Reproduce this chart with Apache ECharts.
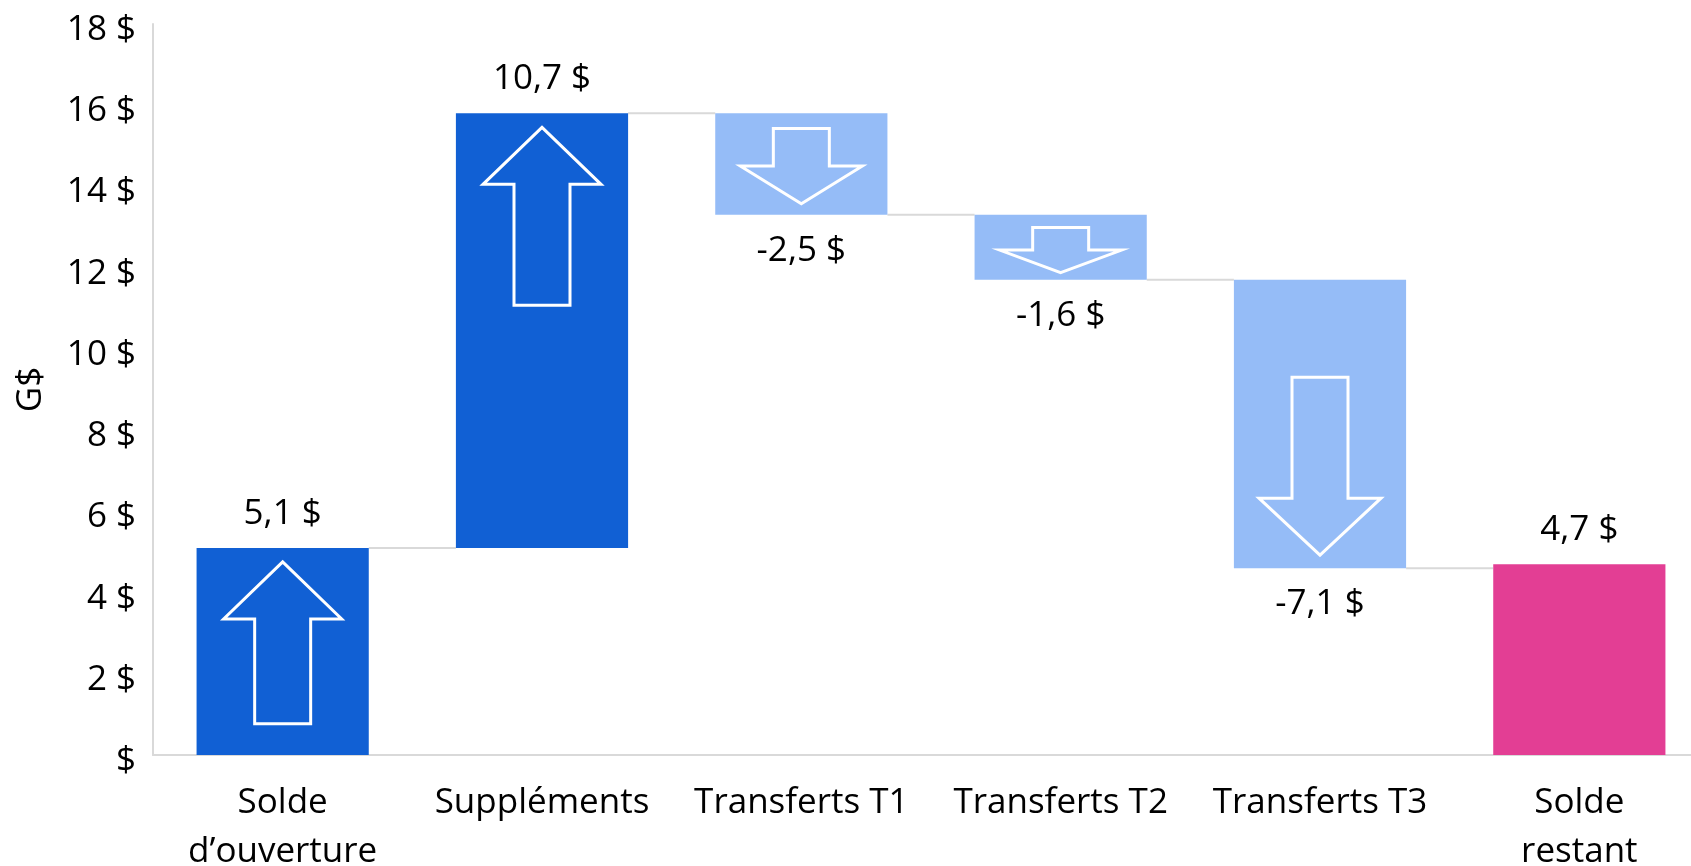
<!DOCTYPE html>
<html>
<head>
<meta charset="utf-8">
<script src="https://cdn.jsdelivr.net/npm/echarts@6/dist/echarts.min.js"></script>
<style>
  html, body { margin: 0; padding: 0; background: #fff; }
  #chart { width: 1691px; height: 866px; }
</style>
</head>
<body>
<div id="chart"></div>
<script>
// catégories et valeurs (G$)
const categories = ['Solde\nd’ouverture', 'Suppléments', 'Transferts T1', 'Transferts T2', 'Transferts T3', 'Solde\nrestant'];
const values = [5.1, 10.7, -2.5, -1.6, -7.1, 4.7];
const isTotal = [true, false, false, false, false, true];
const yMin = 0, yMax = 18, yStep = 2;

const DARK = '#1160d4', LIGHT = '#95bcf7', PINK = '#e33e94', GRID = '#d9d9d9';
const FONT = '"Open Sans", "Noto Sans", sans-serif';
const FS = 35;

// début / fin de chaque barre
const rows = [];
let running = 0;
values.forEach((v, i) => {
    let lo, hi;
    if (isTotal[i]) {
        lo = 0; hi = v; running = v;
    } else {
        lo = running; hi = running + v; running = hi;
    }
    // kind: 0 = solde d'ouverture, 1 = hausse, 2 = baisse, 3 = solde final
    let kind = i === values.length - 1 ? 3 : (v >= 0 ? 1 : 2);
    rows.push([i, lo, hi, kind, v]);
});

const fmt = v => v.toFixed(1).replace('.', ',') + ' $';

function arrowPoints(cx, yTip, len, head, hw, sw, dir) {
    // dir = 1 pointe vers le haut, -1 vers le bas
    const s = dir;
    return [
        [cx, yTip],
        [cx + hw / 2, yTip + s * head],
        [cx + sw / 2, yTip + s * head],
        [cx + sw / 2, yTip + s * len],
        [cx - sw / 2, yTip + s * len],
        [cx - sw / 2, yTip + s * head],
        [cx - hw / 2, yTip + s * head]
    ];
}

function renderItem(params, api) {
    const idx = api.value(0);
    const lo = api.value(1), hi = api.value(2);
    const kind = api.value(3), v = api.value(4);
    const band = api.size([1, 0])[0];
    const w = band * 0.664;
    const pTop = api.coord([idx, Math.max(lo, hi)]);
    const pBot = api.coord([idx, Math.min(lo, hi)]);
    const cx = pTop[0];
    const h = pBot[1] - pTop[1];
    const color = kind === 3 ? PINK : (kind === 2 ? LIGHT : DARK);
    const children = [];

    // connecteur vers la barre suivante
    if (idx < values.length - 1) {
        const pc = api.coord([idx, hi]);
        const pn = api.coord([idx + 1, hi]);
        children.push({
            type: 'line',
            shape: { x1: cx + w / 2, y1: pc[1], x2: pn[0] - w / 2, y2: pc[1] },
            style: { stroke: GRID, lineWidth: 2 }
        });
    }

    children.push({
        type: 'rect',
        shape: { x: cx - w / 2, y: pTop[1], width: w, height: h },
        style: { fill: color }
    });

    // flèche
    if (kind !== 3) {
        const len = Math.min(178, h * 0.82 - 8);
        const head = Math.min(57, len * 0.5);
        if (v >= 0) {
            children.push({
                type: 'polygon',
                shape: { points: arrowPoints(cx, pTop[1] + 14, len, head, 118, 56, 1) },
                style: { fill: 'none', stroke: '#fff', lineWidth: 3 }
            });
        } else {
            const pad = Math.min(13, h * 0.11);
            children.push({
                type: 'polygon',
                shape: { points: arrowPoints(cx, pBot[1] - pad, len, head, 122, 56, -1) },
                style: { fill: 'none', stroke: '#fff', lineWidth: 3 }
            });
        }
    }

    // étiquette
    const above = v >= 0;
    children.push({
        type: 'text',
        style: {
            text: fmt(v),
            x: cx,
            y: above ? pTop[1] - 34 : pBot[1] + 36,
            align: 'center',
            verticalAlign: 'middle',
            fill: '#000',
            font: FS + 'px ' + FONT
        }
    });

    return { type: 'group', children: children };
}

const chart = echarts.init(document.getElementById('chart'));
chart.setOption({
    animation: false,
    grid: {
        left: 153, top: 24, bottom: 111, right: -18,
        containLabel: false, outerBoundsMode: 'none'
    },
    xAxis: {
        type: 'category',
        data: categories,
        axisLine: { lineStyle: { color: GRID, width: 2 } },
        axisTick: { show: false },
        axisLabel: {
            color: '#000', fontSize: FS, fontFamily: FONT,
            lineHeight: 49, margin: 24, interval: 0
        }
    },
    yAxis: {
        type: 'value',
        min: yMin, max: yMax, interval: yStep,
        name: 'G$',
        nameLocation: 'middle',
        nameGap: 104,
        nameTextStyle: { color: '#000', fontSize: FS, fontFamily: FONT },
        axisLine: { show: true, lineStyle: { color: GRID, width: 2 } },
        axisTick: { show: false },
        splitLine: { show: false },
        axisLabel: {
            color: '#000', margin: 17,
            formatter: v => '{t|' + (v === 0 ? '$' : v + ' $') + '}',
            rich: {
                t: { fontSize: FS, fontFamily: FONT, color: '#000', padding: [12, 0, 0, 0] }
            }
        }
    },
    series: [{
        type: 'custom',
        renderItem: renderItem,
        encode: { x: 0, y: [1, 2] },
        data: rows,
        clip: false
    }]
});
</script>
</body>
</html>
